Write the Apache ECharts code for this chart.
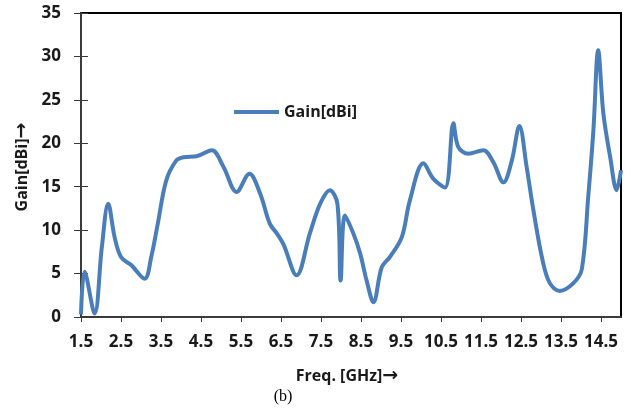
<!DOCTYPE html>
<html>
<head>
<meta charset="utf-8">
<script src="https://cdn.jsdelivr.net/npm/echarts@6/dist/echarts.min.js"></script>
<style>
  html, body { margin: 0; padding: 0; background: #fff; }
  #chart { width: 631px; height: 409px; }
</style>
</head>
<body>
<div id="chart"></div>
<script>
// Frequency sweep (GHz) and measured gain (dBi)
const freq = [
  1.5, 1.59, 1.84, 2.02, 2.18, 2.34, 2.5, 2.76, 3.09, 3.26, 3.42, 3.63, 3.88,
  4.06, 4.39, 4.77, 5.06, 5.39, 5.71, 5.98, 6.22, 6.4, 6.56, 6.89, 7.22, 7.48,
  7.72, 7.91, 7.99, 8.1, 8.31, 8.48, 8.64, 8.81, 9.02, 9.22, 9.52, 9.72, 10.06,
  10.31, 10.6, 10.81, 10.93, 11.18, 11.56, 11.81, 12.06, 12.27, 12.46, 12.64,
  12.81, 13.04, 13.22, 13.47, 13.81, 14.02, 14.18, 14.31, 14.43, 14.56, 14.73,
  14.89, 15.0
];
const gain = [
  0.3, 5.2, 0.4, 8.0, 13.05, 9.2, 6.9, 5.95, 4.4, 7.0, 10.75, 15.7, 18.0,
  18.4, 18.5, 19.2, 17.3, 14.4, 16.5, 14.2, 10.75, 9.6, 8.4, 4.8, 9.6, 13.05,
  14.6, 13.05, 4.2, 11.7, 9.6, 7.3, 4.2, 1.7, 5.75, 6.9, 9.2, 13.4, 17.7,
  15.9, 14.9, 22.3, 19.6, 18.8, 19.2, 17.8, 15.5, 18.0, 22.0, 17.3,
  12.3, 6.5, 3.9, 3.0, 3.9, 5.5, 13.8, 21.5, 30.7, 23.4, 18.4,
  14.6, 16.9
];
const xTicks = [1.5, 2.5, 3.5, 4.5, 5.5, 6.5, 7.5, 8.5, 9.5, 10.5, 11.5, 12.5, 13.5, 14.5];
const seriesName = 'Gain[dBi]';

const points = freq.map((f, i) => [f, gain[i]]);
const ink = '#1a1a1a';
const labelFont = { fontFamily: 'Open Sans', fontWeight: 'bold', fontSize: 17, color: ink };
const titleFont = { fontFamily: 'Open Sans', fontWeight: 'bold', fontSize: 16, color: ink };
// axis titles: text plus a full-height arrow
const titleRich = {
  t: { fontFamily: 'Open Sans', fontWeight: 'bold', fontSize: 16, fill: ink },
  a: { fontFamily: 'DejaVu Sans', fontWeight: 'bold', fontSize: 19, fill: ink }
};

const chart = echarts.init(document.getElementById('chart'), null, { renderer: 'canvas' });
chart.setOption({
  animation: false,
  backgroundColor: '#fff',
  grid: {
    left: 81, right: 10, top: 13, bottom: 92,
    show: true, borderColor: '#000', borderWidth: 2, backgroundColor: 'transparent'
  },
  legend: {
    left: 229, top: 99,
    icon: 'rect',
    itemWidth: 45, itemHeight: 4,
    itemGap: 10,
    data: [seriesName],
    textStyle: titleFont
  },
  xAxis: {
    type: 'value', min: 1.5, max: 15,
    axisLine: { show: true, lineStyle: { color: '#3a3a3a', width: 2 } },
    axisTick: { show: true, length: 5, customValues: xTicks, lineStyle: { color: '#3a3a3a', width: 1 } },
    axisLabel: Object.assign({ margin: 17, customValues: xTicks, formatter: v => v.toFixed(1) }, labelFont),
    splitLine: { show: false }
  },
  yAxis: [{
    type: 'value', min: 0, max: 35, interval: 5,
    axisLine: { show: true, lineStyle: { color: '#3a3a3a', width: 2 } },
    axisTick: { show: true, length: 7, lineStyle: { color: '#3a3a3a', width: 1 } },
    axisLabel: Object.assign({ margin: 20 }, labelFont),
    splitLine: { show: false }
  }, {
    // inner half of the crossing tick marks
    type: 'value', min: 0, max: 35, interval: 5, position: 'left',
    axisLine: { show: false },
    axisTick: { show: true, inside: true, length: 7, lineStyle: { color: '#3a3a3a', width: 1 } },
    axisLabel: { show: false },
    splitLine: { show: false }
  }],
  series: [{
    name: seriesName,
    type: 'line',
    data: points,
    smooth: 0.35,
    symbol: 'none',
    lineStyle: { color: '#4a7ebb', width: 4 },
    itemStyle: { color: '#4a7ebb' }
  }],
  graphic: [
    {
      type: 'text', x: 22, y: 167,
      rotation: Math.PI / 2,
      style: { text: '{t|Gain[dBi]}{a|\u2192}', rich: titleRich, align: 'center', verticalAlign: 'middle' }
    },
    {
      type: 'text', x: 347, y: 376,
      style: { text: '{t|Freq. [GHz]}{a|\u2192}', rich: titleRich, align: 'center', verticalAlign: 'middle' }
    },
    {
      type: 'text', x: 283, y: 397,
      style: { text: '(b)', align: 'center', verticalAlign: 'middle', fontFamily: 'Liberation Serif', fontSize: 16, fill: '#000' }
    }
  ]
});
</script>
</body>
</html>
